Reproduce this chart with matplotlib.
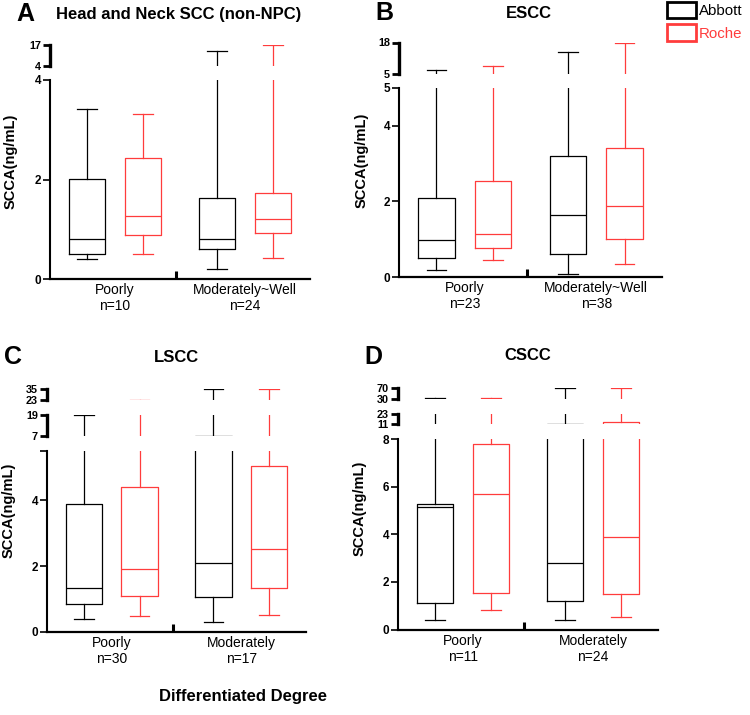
import matplotlib
matplotlib.use("Agg")
import matplotlib.pyplot as plt
from matplotlib.patches import Patch

plt.rcParams['font.family'] = ['Liberation Sans', 'DejaVu Sans']

RED = '#ff3c3c'
W, H = 750, 715

# ---- data ----
# A: Head and Neck SCC (non-NPC)
groups_A = ["Poorly", "Moderately~Well"]
n_A = [10, 24]
abbott_A = dict(lo=[0.40, 0.20], q1=[0.50, 0.61], med=[0.80, 0.80], q3=[2.02, 1.62], hi=[3.41, 13.3])
roche_A = dict(lo=[0.50, 0.43], q1=[0.88, 0.92], med=[1.26, 1.20], q3=[2.43, 1.72], hi=[3.32, 16.9])

# B: ESCC
groups_B = ["Poorly", "Moderately~Well"]
n_B = [23, 38]
abbott_B = dict(lo=[0.19, 0.08], q1=[0.50, 0.60], med=[0.99, 1.63], q3=[2.08, 3.21], hi=[6.8, 13.9])
roche_B = dict(lo=[0.45, 0.34], q1=[0.77, 1.00], med=[1.13, 1.89], q3=[2.55, 3.41], hi=[8.3, 17.9])

# C: LSCC
groups_C = ["Poorly", "Moderately"]
n_C = [30, 17]
abbott_C = dict(lo=[0.38, 0.29], q1=[0.86, 1.05], med=[1.35, 2.09], q3=[3.89, 7.1], hi=[18.9, 34.8])
roche_C = dict(lo=[0.50, 0.51], q1=[1.09, 1.35], med=[1.92, 2.53], q3=[4.41, 5.04], hi=[23.2, 34.8])

# D: CSCC
groups_D = ["Poorly", "Moderately"]
n_D = [11, 24]
abbott_D = dict(lo=[0.38, 0.38], q1=[1.11, 1.20], med=[5.15, 2.81], q3=[5.25, 11.2], hi=[35, 69.5])
roche_D = dict(lo=[0.82, 0.54], q1=[1.53, 1.50], med=[5.67, 3.87], q3=[7.80, 14.0], hi=[32.5, 69.5])

# broken axis segments: (low, high, pixel bottom, pixel top, ticks)
segs_A = [(0, 4, 279, 80, [0, 2, 4]), (4, 17, 66, 45, [4, 17])]
segs_B = [(0, 5, 277, 88, [0, 2, 4, 5]), (5, 18, 74, 42.5, [5, 18])]
segs_C = [(0, 5.5, 632, 451, [0, 2, 4, 5.5]), (7, 19, 436, 415, [7, 19]), (23, 35, 400, 389, [23, 35])]
segs_D = [(0, 8, 629.5, 439, [0, 2, 4, 6, 8]), (11, 23, 424, 414, [11, 23]), (30, 70, 399, 388, [30, 70])]


def stats(d):
    return [dict(whislo=d['lo'][i], q1=d['q1'][i], med=d['med'][i], q3=d['q3'][i],
                 whishi=d['hi'][i], fliers=[]) for i in range(len(d['lo']))]


def draw_panel(fig, xl, xr, segs, groups, ns, abbott, roche):
    for i, (lo, hi, pb, pt, ticks) in enumerate(segs):
        ax = fig.add_axes([xl / W, 1 - pb / H, (xr - xl) / W, (pb - pt) / H])
        ax.patch.set_alpha(0)
        ax.set_xlim(0.5, 2.5)
        ax.set_ylim(lo, hi)
        for d, c, off in [(abbott, 'black', -0.215), (roche, RED, 0.215)]:
            kw = dict(color=c, linewidth=0.9)
            ax.bxp(stats(d), positions=[1 + off, 2 + off], widths=0.28, capwidths=0.15,
                   showfliers=False, boxprops=kw, whiskerprops=kw, capprops=kw,
                   medianprops=kw, manage_ticks=False)
        ax.spines['top'].set_visible(False)
        ax.spines['right'].set_visible(False)
        labels = [("%g" % t) if (i > 0 or t == int(t)) else "" for t in ticks]
        ax.set_yticks(ticks)
        if i == 0:
            ax.set_yticklabels(labels, fontweight='bold', fontsize=8.5)
            ax.spines['left'].set_linewidth(1.5)
            ax.spines['bottom'].set_linewidth(1.6)
            ax.tick_params(axis='y', length=5, width=1.2, pad=1.5)
            ax.set_xticks([1, 2])
            ax.set_xticklabels([f"{g}\nn={n}" for g, n in zip(groups, ns)], fontsize=10)
            ax.set_xticks([1.47], minor=True)
            ax.tick_params(axis='x', which='major', length=0, pad=3)
            ax.tick_params(axis='x', which='minor', direction='in', length=6, width=2.2)
        else:
            ax.set_yticklabels(labels, fontweight='bold', fontsize=7.8)
            ax.spines['bottom'].set_visible(False)
            ax.spines['left'].set_linewidth(2.4)
            ax.tick_params(axis='y', length=5, width=2.0, pad=1.5)
            ax.set_xticks([])


fig = plt.figure(figsize=(7.5, 7.15), dpi=100)

draw_panel(fig, 50, 310, segs_A, groups_A, n_A, abbott_A, roche_A)
draw_panel(fig, 399, 662, segs_B, groups_B, n_B, abbott_B, roche_B)
draw_panel(fig, 47, 306, segs_C, groups_C, n_C, abbott_C, roche_C)
draw_panel(fig, 398, 658, segs_D, groups_D, n_D, abbott_D, roche_D)

# panel letters and titles
for letter, x, y in [("A", 25, 14), ("B", 384, 13), ("C", 13, 357), ("D", 373, 357)]:
    fig.text(x / W, 1 - y / H, letter, fontsize=18, fontweight='bold', ha='center', va='center')
for title, x, y in [("Head and Neck SCC (non-NPC)", 179, 15), ("ESCC", 529, 13),
                    ("LSCC", 176, 358), ("CSCC", 528, 356)]:
    fig.text(x / W, 1 - y / H, title, fontsize=12, fontweight='bold', ha='center', va='center')

for x, y in [(11, 161), (362, 160), (9, 510), (360, 508)]:
    fig.text(x / W, 1 - y / H, "SCCA(ng/mL)", fontsize=10.5, fontweight='bold',
             rotation=90, ha='center', va='center')

fig.text(243 / W, 1 - 697 / H, "Differentiated Degree", fontsize=12, fontweight='bold',
         ha='center', va='center')

handles = [Patch(facecolor='white', edgecolor='black', linewidth=2),
           Patch(facecolor='white', edgecolor=RED, linewidth=2)]
fig.legend(handles, ["Abbott", "Roche"], loc='upper left', bbox_to_anchor=(667 / W, 1 - 2 / H),
           frameon=False, fontsize=10.8, handlelength=1.9, handleheight=1.3,
           handletextpad=0.2, labelspacing=0.4, borderpad=0, borderaxespad=0,
           labelcolor=['black', RED])

fig.savefig("out.png", dpi=100)
